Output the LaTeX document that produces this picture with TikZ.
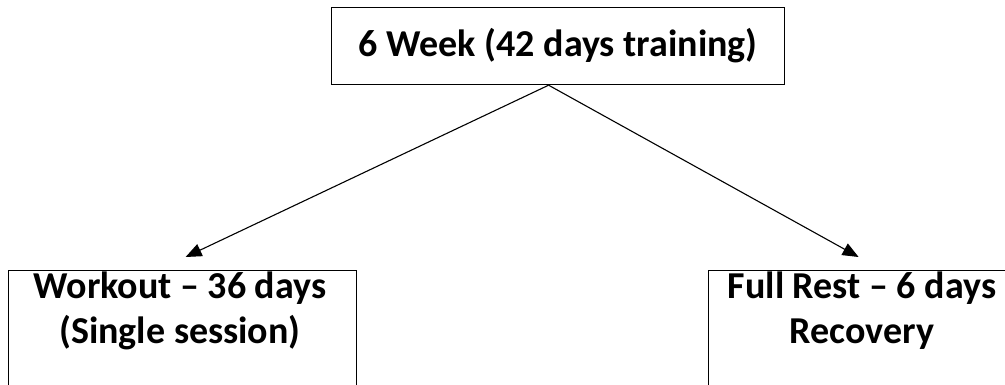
\documentclass[tikz,border=0pt]{standalone}
\usepackage{fontspec}
\setmainfont{Carlito}
\usetikzlibrary{arrows.meta}

\begin{document}
\begin{tikzpicture}[x=1pt,y=1pt,
  box/.style={draw,line width=1.2pt,inner sep=0pt},
  txt/.style={font=\bfseries\fontsize{38}{45}\selectfont,align=center,inner sep=0pt},
  arr/.style={line width=1.1pt,-{Triangle[length=16pt,width=13pt]}}]
\useasboundingbox (0,0) rectangle (1005,-385);
\clip (0,0) rectangle (1005,-385);
% boxes
\node[box,txt,minimum width=453pt,minimum height=77pt,anchor=north west] (week) at (331,-7) {6 Week (42 days training)};
\node[box,minimum width=348pt,minimum height=130pt,anchor=north west] (workout) at (8,-270) {};
\node[box,minimum width=308pt,minimum height=130pt,anchor=north west] (rest) at (708,-270) {};
\node[txt,anchor=base] (workouttext) at (180,-343) {Workout – 36 days\\(Single session)};
\node[txt,anchor=base] (resttext) at (862,-343) {Full Rest – 6 days\\Recovery};
% arrows
\coordinate (apex) at ([xshift=-9.5pt]week.south);
\coordinate (worktip) at ([xshift=3pt,yshift=13pt]workout.north);
\coordinate (resttip) at ([xshift=-4pt,yshift=13pt]rest.north);
\draw[arr] (apex) -- (worktip);
\draw[arr] (apex) -- (resttip);
\end{tikzpicture}
\end{document}
